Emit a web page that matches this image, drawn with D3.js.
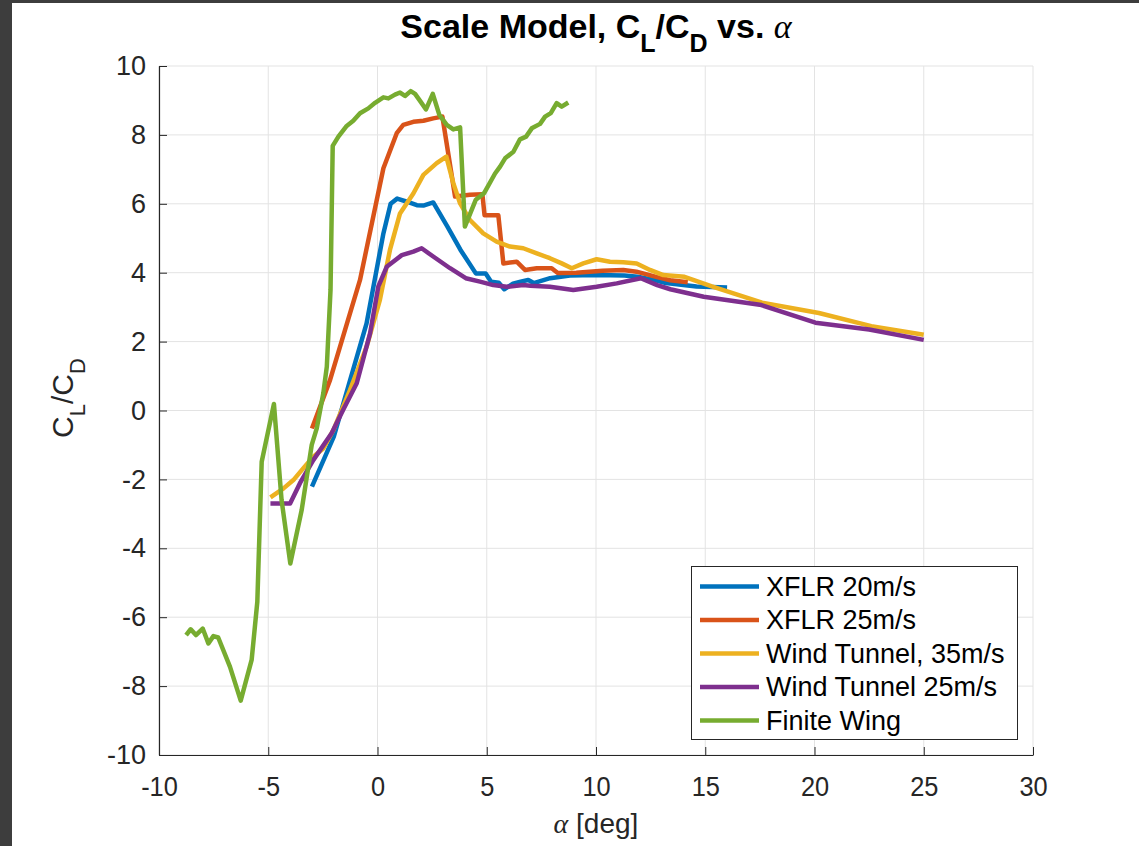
<!DOCTYPE html>
<html>
<head>
<meta charset="utf-8">
<script src="https://cdn.jsdelivr.net/npm/d3@7"></script>
<style>
  html, body { margin: 0; padding: 0; background: #ffffff; }
  svg { display: block; }
  text { font-family: "Liberation Sans", Arial, Helvetica, sans-serif; }
</style>
</head>
<body>
<svg id="chart" width="1139" height="846"></svg>
<script>
// Lift-to-drag ratio vs angle of attack for the scale model

const xflr20Alpha = [-3, -2, -1.25, -0.5, 0.27, 0.6, 0.9, 1.35, 1.8, 2.1, 2.55, 3.2, 3.8, 4.5, 4.95, 5.2, 5.55, 5.8, 6.2, 6.55, 6.9, 7.15, 7.9, 8.8, 10, 11.3, 11.9, 12.6, 13.2, 14.6, 16];
const xflr20Ratio = [-2.21, -0.76, 0.89, 2.53, 5.14, 6.0, 6.15, 6.06, 5.96, 5.95, 6.04, 5.34, 4.66, 3.98, 3.98, 3.74, 3.71, 3.52, 3.68, 3.74, 3.79, 3.7, 3.84, 3.92, 3.93, 3.92, 3.88, 3.8, 3.7, 3.6, 3.57];

const xflr25Alpha = [-3, -2.17, -0.8, 0.27, 0.88, 1.18, 1.64, 2.1, 2.55, 2.97, 3.55, 4.23, 4.8, 4.9, 5.53, 5.76, 6.37, 6.75, 7.29, 7.97, 8.25, 9.1, 10.3, 11.25, 11.85, 12.8, 13.4, 14.2];
const xflr25Ratio = [-0.52, 0.89, 3.79, 7.03, 8.05, 8.29, 8.38, 8.41, 8.48, 8.53, 6.21, 6.26, 6.28, 5.67, 5.67, 4.27, 4.32, 4.08, 4.13, 4.13, 3.99, 4.0, 4.06, 4.08, 4.03, 3.87, 3.78, 3.72];

const tunnel35Alpha = [-4.9, -4.3, -3.85, -3.4, -2.94, -2.48, -2.02, -1.26, -0.5, 0.11, 0.57, 1.03, 1.64, 2.1, 2.71, 3.15, 3.47, 3.78, 4.23, 4.84, 5.45, 6.06, 6.67, 7.29, 7.89, 8.43, 8.89, 9.42, 10.03, 10.64, 11.25, 11.86, 12.47, 13.08, 14.05, 15.3, 17.6, 20.2, 22.6, 25];
const tunnel35Ratio = [-2.52, -2.26, -2.02, -1.68, -1.34, -1.1, -0.57, 0.59, 1.85, 3.21, 4.66, 5.72, 6.3, 6.84, 7.18, 7.37, 6.6, 6.01, 5.53, 5.14, 4.9, 4.76, 4.71, 4.56, 4.42, 4.27, 4.13, 4.27, 4.39, 4.32, 4.3, 4.27, 4.08, 3.93, 3.88, 3.6, 3.13, 2.83, 2.45, 2.2];

const tunnel25Alpha = [-4.9, -4.0, -3.55, -2.94, -2.1, -1.57, -0.95, -0.34, 0.04, 0.42, 1.11, 1.64, 2.02, 2.55, 3.32, 4.04, 4.69, 5.3, 5.91, 6.67, 7.0, 7.89, 8.96, 10.03, 10.95, 12.05, 12.8, 13.4, 14.93, 17.57, 20.04, 22.5, 25];
const tunnel25Ratio = [-2.7, -2.7, -2.11, -1.44, -0.66, 0.02, 0.79, 2.24, 3.6, 4.17, 4.51, 4.61, 4.71, 4.47, 4.13, 3.84, 3.74, 3.64, 3.59, 3.64, 3.62, 3.59, 3.5, 3.59, 3.69, 3.84, 3.64, 3.52, 3.3, 3.06, 2.55, 2.35, 2.05];

const finiteAlpha = [-8.76, -8.55, -8.31, -8.0, -7.74, -7.51, -7.29, -6.75, -6.26, -5.76, -5.5, -5.3, -4.74, -4.39, -3.99, -3.47, -3.01, -2.78, -2.48, -2.32, -2.15, -2.05, -1.79, -1.41, -1.11, -0.8, -0.42, -0.11, 0.27, 0.5, 0.8, 1.03, 1.26, 1.52, 1.72, 1.98, 2.22, 2.53, 2.83, 3.17, 3.47, 3.78, 4.0, 4.5, 4.88, 5.38, 5.61, 5.84, 6.22, 6.52, 6.8, 7.06, 7.44, 7.67, 7.93, 8.2, 8.43, 8.73];
const finiteRatio = [-6.52, -6.35, -6.52, -6.33, -6.76, -6.55, -6.59, -7.44, -8.42, -7.24, -5.55, -1.49, 0.19, -2.6, -4.44, -2.89, -1.0, -0.52, 0.5, 1.27, 3.5, 7.68, 7.95, 8.26, 8.41, 8.63, 8.77, 8.93, 9.09, 9.06, 9.17, 9.23, 9.13, 9.27, 9.19, 8.96, 8.74, 9.19, 8.58, 8.29, 8.16, 8.22, 5.34, 6.12, 6.31, 6.88, 7.08, 7.32, 7.51, 7.87, 7.95, 8.19, 8.32, 8.53, 8.63, 8.92, 8.82, 8.94];

const seriesNames = ["XFLR 20m/s", "XFLR 25m/s", "Wind Tunnel, 35m/s", "Wind Tunnel 25m/s", "Finite Wing"];
const seriesColors = ["#0072BD", "#D95319", "#EDB120", "#7E2F8E", "#77AC30"];
const xTicks = [-10, -5, 0, 5, 10, 15, 20, 25, 30];
const yTicks = [-10, -8, -6, -4, -2, 0, 2, 4, 6, 8, 10];

const series = [
  [xflr20Alpha, xflr20Ratio],
  [xflr25Alpha, xflr25Ratio],
  [tunnel35Alpha, tunnel35Ratio],
  [tunnel25Alpha, tunnel25Ratio],
  [finiteAlpha, finiteRatio]
].map(([a, r], i) => ({
  name: seriesNames[i],
  color: seriesColors[i],
  points: a.map((v, j) => [v, r[j]])
}));

const svg = d3.select("#chart");
const axisColor = "#262626";

// window frame edges
svg.append("rect").attr("x", 0).attr("y", 0).attr("width", 1139).attr("height", 846).attr("fill", "#ffffff");
svg.append("rect").attr("x", 0).attr("y", 0).attr("width", 12).attr("height", 846).attr("fill", "#3d3d3d");
svg.append("rect").attr("x", 0).attr("y", 0).attr("width", 1139).attr("height", 3).attr("fill", "#3d3d3d");

const x = d3.scaleLinear().domain([-10, 30]).range([159, 1033]);
const y = d3.scaleLinear().domain([-10, 10]).range([755, 66]);

// grid
const grid = svg.append("g").attr("stroke", "#e3e3e3").attr("stroke-width", 1);
grid.selectAll("line.gx").data(xTicks).join("line")
  .attr("x1", d => x(d)).attr("x2", d => x(d))
  .attr("y1", y(-10)).attr("y2", y(10));
grid.selectAll("line.gy").data(yTicks).join("line")
  .attr("x1", x(-10)).attr("x2", x(30))
  .attr("y1", d => y(d)).attr("y2", d => y(d));

// axes (plain hyphen-minus in tick labels)
const tickFmt = d => String(d);
const xAxis = svg.append("g")
  .attr("transform", `translate(0,${y(-10)})`)
  .call(d3.axisBottom(x).tickValues(xTicks).tickFormat(tickFmt)
    .tickSizeInner(-8).tickSizeOuter(0).tickPadding(22));
const yAxis = svg.append("g")
  .attr("transform", `translate(${x(-10)},0)`)
  .call(d3.axisLeft(y).tickValues(yTicks).tickFormat(tickFmt)
    .tickSizeInner(-8).tickSizeOuter(0).tickPadding(13));

[xAxis, yAxis].forEach(g => {
  g.select(".domain").attr("stroke", axisColor).attr("stroke-width", 1.2);
  g.selectAll(".tick line").attr("stroke", axisColor).attr("stroke-width", 1);
  g.selectAll(".tick text")
    .attr("fill", axisColor)
    .style("font-family", "'Liberation Sans', Arial, sans-serif")
    .style("font-size", "27px");
});
// slightly condensed x labels, scaled about each tick
xAxis.selectAll(".tick text").attr("transform", "scale(0.94,1)");

// curves
const line = d3.line().x(d => x(d[0])).y(d => y(d[1]));
const plot = svg.append("g");
series.forEach(s => {
  plot.append("path")
    .datum(s.points)
    .attr("d", line)
    .attr("fill", "none")
    .attr("stroke", s.color)
    .attr("stroke-width", 4.5)
    .attr("stroke-linejoin", "round")
    .attr("stroke-linecap", "butt");
});

// title
const title = svg.append("text")
  .attr("x", 596).attr("y", 38)
  .attr("text-anchor", "middle")
  .attr("fill", "#000")
  .style("font-size", "34px")
  .style("font-weight", "bold");
title.append("tspan").text("Scale Model, C");
title.append("tspan").attr("dy", 14).style("font-size", "25px").text("L");
title.append("tspan").attr("dy", -14).text("/C");
title.append("tspan").attr("dy", 14).style("font-size", "25px").text("D");
title.append("tspan").attr("dy", -14).text(" vs. ");
title.append("tspan")
  .style("font-family", "'Liberation Serif', 'Times New Roman', serif")
  .style("font-style", "italic").style("font-weight", "normal")
  .text("α");

// y label
const yLabel = svg.append("text")
  .attr("transform", "translate(73,398) rotate(-90)")
  .attr("text-anchor", "middle")
  .attr("fill", axisColor)
  .style("font-size", "30px");
yLabel.append("tspan").text("C");
yLabel.append("tspan").attr("dy", 12).style("font-size", "22px").text("L");
yLabel.append("tspan").attr("dy", -12).text("/C");
yLabel.append("tspan").attr("dy", 12).style("font-size", "22px").text("D");

// x label
const xLabel = svg.append("text")
  .attr("x", 596).attr("y", 833)
  .attr("text-anchor", "middle")
  .attr("fill", axisColor)
  .style("font-size", "28px");
xLabel.append("tspan")
  .style("font-family", "'Liberation Serif', 'Times New Roman', serif")
  .style("font-style", "italic")
  .text("α");
xLabel.append("tspan").text(" [deg]");

// legend
const legend = svg.append("g");
legend.append("rect")
  .attr("x", 691.5).attr("y", 566.5).attr("width", 326).attr("height", 173)
  .attr("fill", "#ffffff").attr("stroke", axisColor).attr("stroke-width", 1);
const rowY = d3.scaleLinear().domain([0, 4]).range([586.5, 720.5]);
series.forEach((s, i) => {
  legend.append("line")
    .attr("x1", 700).attr("x2", 759)
    .attr("y1", rowY(i)).attr("y2", rowY(i))
    .attr("stroke", s.color).attr("stroke-width", 4.5);
  legend.append("text")
    .attr("x", 766).attr("y", rowY(i))
    .attr("dy", "0.35em")
    .attr("fill", "#000")
    .style("font-size", "27px")
    .text(s.name);
});
</script>
</body>
</html>
